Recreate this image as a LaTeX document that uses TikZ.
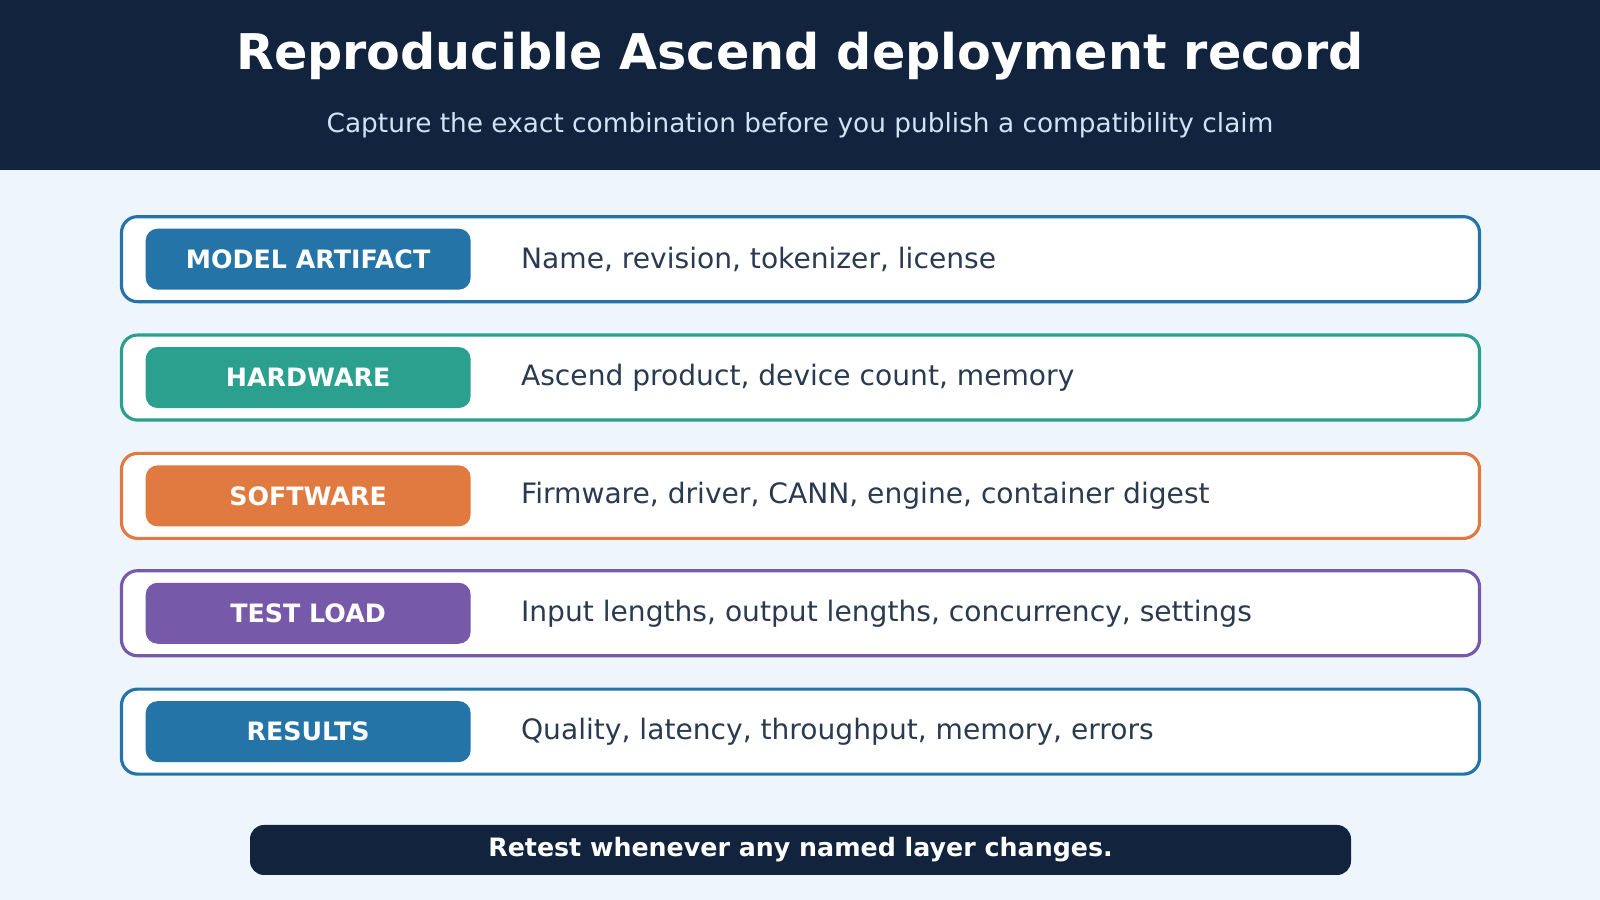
\documentclass[tikz,border=0pt]{standalone}
\usepackage{fontspec}
\setmainfont{DejaVu Sans}
\usetikzlibrary{positioning}
\definecolor{navy}{HTML}{12233D}
\definecolor{bgblue}{HTML}{EEF5FC}
\definecolor{subtxt}{HTML}{CFE3F5}
\definecolor{bodytxt}{HTML}{2A3A50}
\definecolor{cblue}{HTML}{2474A8}
\definecolor{cteal}{HTML}{2BA08E}
\definecolor{corange}{HTML}{E07A40}
\definecolor{cpurple}{HTML}{7659A8}
\tikzset{
  rowbox/.style={draw=#1,fill=white,line width=0.9pt,rounded corners=0.16cm,
    minimum width=13.58cm,minimum height=0.85cm,inner sep=0pt},
  pill/.style={fill=#1,rounded corners=0.12cm,minimum width=3.25cm,
    minimum height=0.61cm,inner sep=0pt,text=white,font=\fontsize{7.2}{8}\selectfont\bfseries},
  detail/.style={anchor=west,text=bodytxt,font=\fontsize{8}{9}\selectfont,inner sep=0pt}
}
\begin{document}
\begin{tikzpicture}[x=1cm/98,y=-1cm/98]
  \fill[bgblue] (0,0) rectangle (1568,882);
  \fill[navy] (0,0) rectangle (1568,167);
  \useasboundingbox (0,0) rectangle (1568,882);
  \node [text=white,font=\fontsize{14}{16}\selectfont\bfseries] (title) at (784,55) {Reproducible Ascend deployment record};
  \node [text=subtxt,font=\fontsize{7.5}{9}\selectfont] (subtitle) at (784,123) {Capture the exact combination before you publish a compatibility claim};

  \foreach \i/\y/\col/\lab/\txt in {
      1/254/cblue/MODEL ARTIFACT/{Name, revision, tokenizer, license},
      2/370/cteal/HARDWARE/{Ascend product, device count, memory},
      3/486/corange/SOFTWARE/{Firmware, driver, CANN, engine, container digest},
      4/601/cpurple/TEST LOAD/{Input lengths, output lengths, concurrency, settings},
      5/717/cblue/RESULTS/{Quality, latency, throughput, memory, errors}}{
    \node [rowbox=\col] (row\i) at (784.5,\y) {};
    \node [pill=\col] (tag\i) at (302,\y) {\lab};
    \node [detail] (info\i) at (510,\y) {\txt};
  }

  \node [fill=navy,rounded corners=0.14cm,minimum width=11.01cm,minimum height=0.5cm,
    text=white,font=\fontsize{7.2}{8}\selectfont\bfseries] (footer) at (784.5,833) {Retest whenever any named layer changes.};
\end{tikzpicture}
\end{document}
